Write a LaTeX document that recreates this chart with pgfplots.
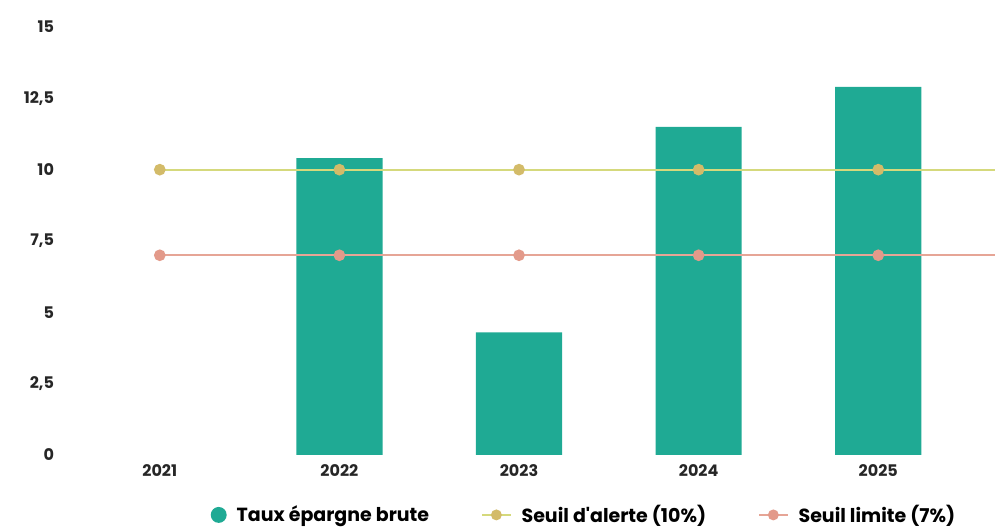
\documentclass[border=0pt]{standalone}
\usepackage{pgfplots}
\pgfplotsset{compat=1.18}
\usepackage{fontspec}
\setmainfont{Poppins}
\definecolor{barteal}{HTML}{1FAA94}
\definecolor{alertline}{HTML}{D5D97C}
\definecolor{alertmark}{HTML}{D3BB69}
\definecolor{limline}{HTML}{E6A596}
\definecolor{limmark}{HTML}{E39A8A}

\begin{document}
\begin{tikzpicture}
\path[use as bounding box] (-30.5pt,-37.5pt) rectangle (467.5pt,227.5pt);
\begin{axis}[
  scale only axis,
  width=467pt, height=214pt,
  xmin=-0.55, xmax=4.65,
  ymin=0, ymax=15,
  axis line style={draw=none},
  xtick={0,1,2,3,4},
  xticklabels={2021,2022,2023,2024,2025},
  ytick={0,2.5,5,7.5,10,12.5,15},
  yticklabels={0,{2,5},5,{7,5},10,{12,5},15},
  tick style={draw=none},
  tick label style={font=\fontsize{8}{10}\selectfont\bfseries, text=black!85},
  x tick label style={yshift=-1pt},
  clip=false,
  legend columns=3,
  legend style={at={(0.561,-0.14)}, anchor=center, draw=none,
    font=\fontsize{9.5}{12}\selectfont\bfseries,
    /tikz/every odd column/.append style={column sep=3pt},
    /tikz/every even column/.append style={column sep=24pt}},
]
\addplot[ybar, bar width=0.48, fill=barteal, draw=none,
  legend image code/.code={\fill[barteal] (0.15cm,0) circle (0.14cm);}]
  coordinates {(1,10.4)(2,4.3)(3,11.5)(4,12.9)};
\addlegendentry{Taux épargne brute}
\addplot[alertline, line width=1pt, mark=*, mark size=2.4pt,
  mark options={fill=alertmark, draw=alertmark}, mark indices={1,2,3,4,5},
  legend image code/.code={
    \draw[alertline, line width=1pt] (0cm,0cm) -- (0.5cm,0cm);
    \fill[alertmark] (0.25cm,0cm) circle (2.2pt);}]
  coordinates {(0,10)(1,10)(2,10)(3,10)(4,10)(4.65,10)};
\addlegendentry{Seuil d\textquotesingle alerte (10\%)}
\addplot[limline, line width=1pt, mark=*, mark size=2.4pt,
  mark options={fill=limmark, draw=limmark}, mark indices={1,2,3,4,5},
  legend image code/.code={
    \draw[limline, line width=1pt] (0cm,0cm) -- (0.5cm,0cm);
    \fill[limmark] (0.25cm,0cm) circle (2.2pt);}]
  coordinates {(0,7)(1,7)(2,7)(3,7)(4,7)(4.65,7)};
\addlegendentry{Seuil limite (7\%)}
\end{axis}
\end{tikzpicture}
\end{document}
